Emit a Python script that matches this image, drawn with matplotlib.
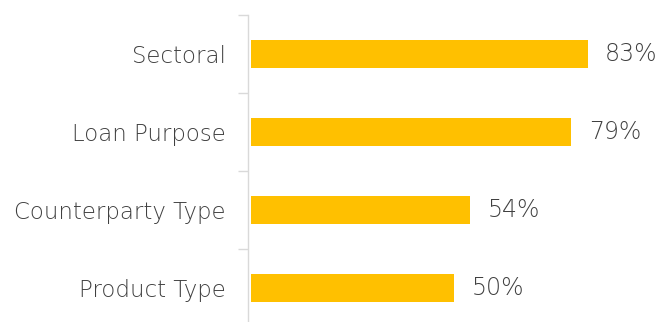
import matplotlib
matplotlib.use('Agg')
import matplotlib.pyplot as plt
import numpy as np

categories = ['Sectoral', 'Loan Purpose', 'Counterparty Type', 'Product Type']
values = [83, 79, 54, 50]
labels = ['83%', '79%', '54%', '50%']

bar_color = '#FFC000'
text_color = '#404040'
axis_color = '#D9D9D9'

plt.rcParams['font.family'] = ['DejaVu Sans']

fig = plt.figure(figsize=(6.62, 3.22), dpi=100)
ax = fig.add_axes([248/662, -5/322, 1 - 248/662, 312/322])

y = np.arange(len(categories))
ax.barh(y, values, height=0.35, color=bar_color)
for yi, v, lab in zip(y, values, labels):
    ax.text(v + 4.3, yi, lab, va='center', ha='left', fontsize=17,
            color=text_color, fontweight='light')

ax.set_ylim(len(categories) - 0.5, -0.5)
ax.set_xlim(-0.7, 101.3)
ax.set_yticks(y)
ax.set_yticklabels(categories, fontsize=16.5, color=text_color, fontweight='light')
ax.set_yticks(np.arange(len(categories) + 1) - 0.5, minor=True)
ax.tick_params(axis='y', which='major', length=0, pad=16)
ax.tick_params(axis='y', which='minor', length=7, color=axis_color, width=1)
ax.set_xticks([])
for s in ['top', 'right', 'bottom']:
    ax.spines[s].set_visible(False)
ax.spines['left'].set_color(axis_color)
ax.spines['left'].set_linewidth(1)

fig.savefig('out.png', dpi=100)
